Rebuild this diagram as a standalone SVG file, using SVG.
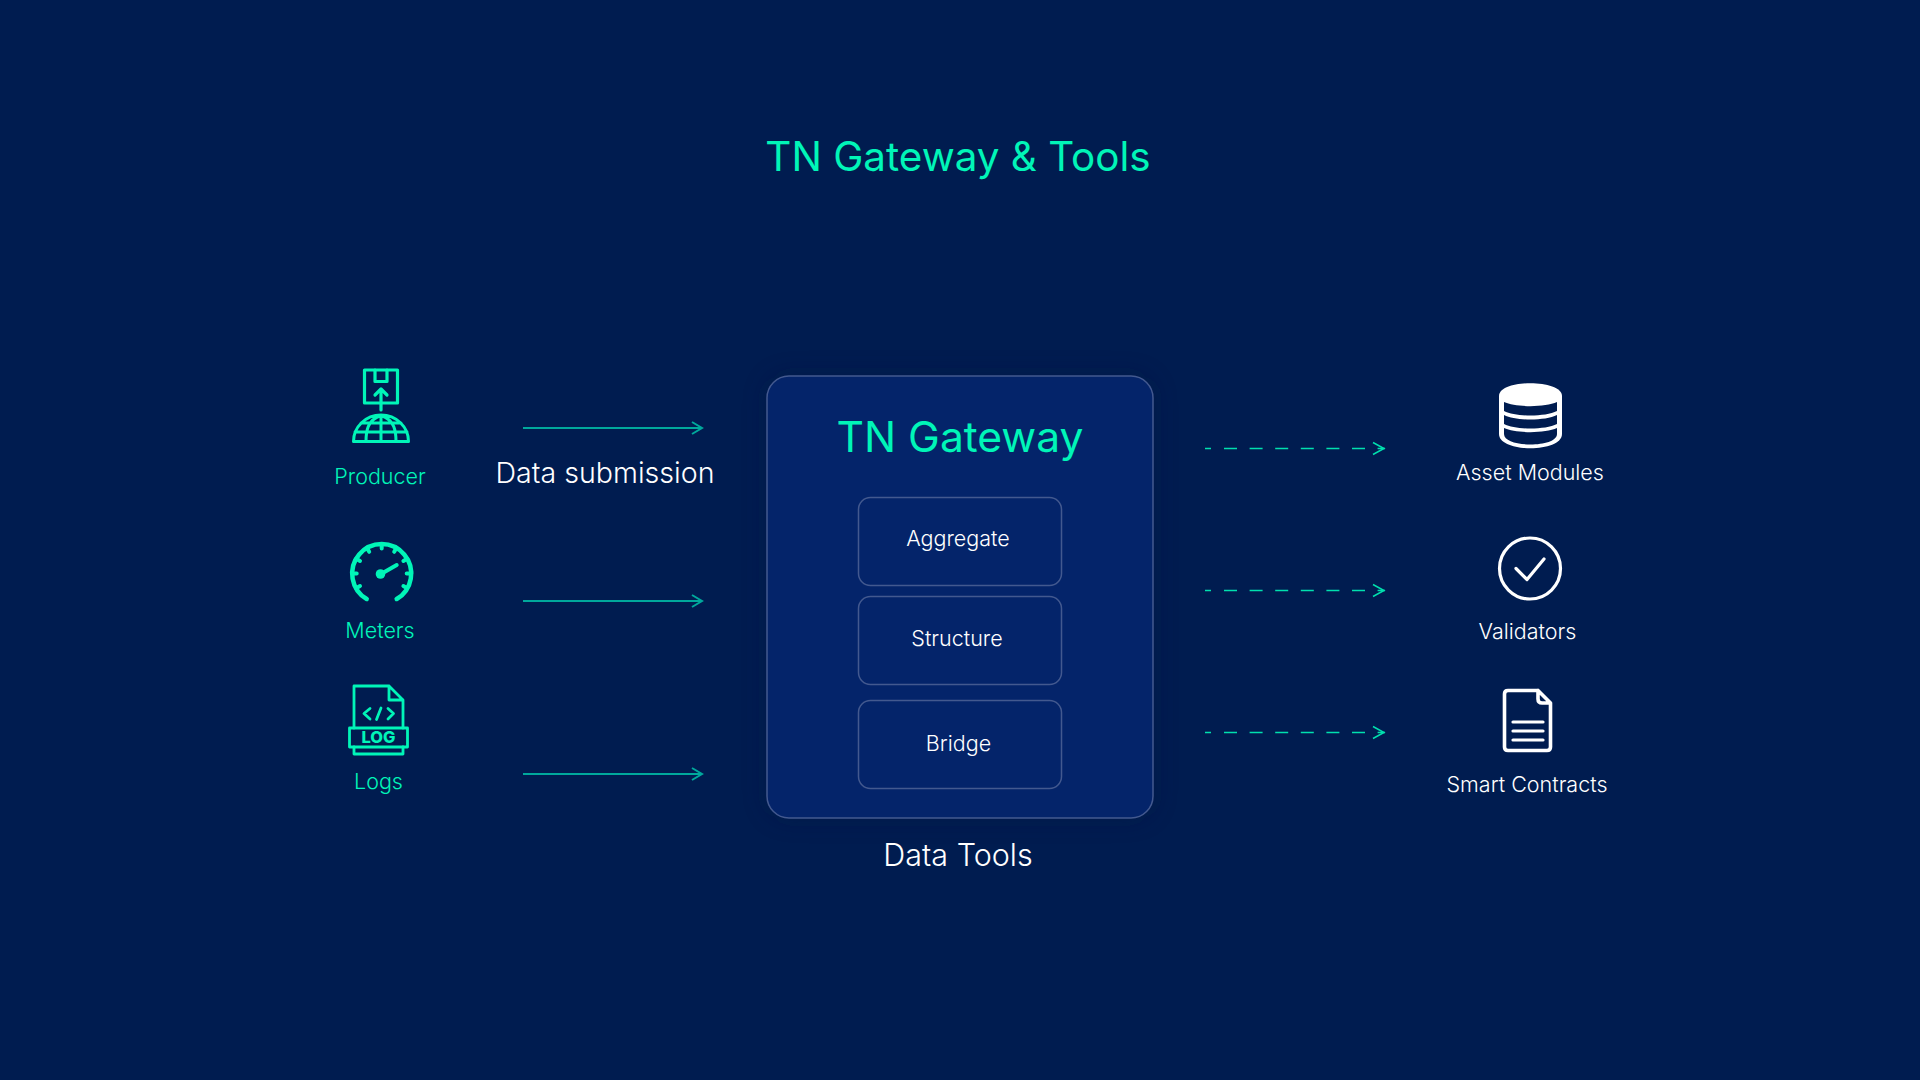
<svg xmlns="http://www.w3.org/2000/svg" width="1920" height="1080" viewBox="0 0 1920 1080">
<style>
text{font-family:Inter,"Liberation Sans",sans-serif;text-anchor:middle;font-weight:350}
.g{fill:#00f5b8}.w{fill:#fff}
.h{font-weight:410}
.ig{fill:none;stroke:#00f5b8;stroke-linecap:round;stroke-linejoin:round}
.iw{fill:none;stroke:#fff;stroke-linecap:round;stroke-linejoin:round}
.box{fill:#04246a;stroke:#43598f;stroke-width:1.5}
.s{fill:none;stroke:#00a89c;stroke-width:2}
.d{fill:none;stroke:#00e0ae;stroke-width:1.5}
.t20{font-size:21.500px}
</style>
<defs><filter id="sh" x="-20%" y="-20%" width="140%" height="140%"><feGaussianBlur stdDeviation="12"/></filter></defs>
<rect width="1920" height="1080" fill="#001c50"/>
<text id="title" x="958" y="171" font-size="40.400" class="g h">TN Gateway &amp; Tools</text>
<g id="producer">
<rect x="364.500" y="370" width="33" height="33" class="ig" stroke-width="3.200"/>
<path d="M375 370V381.500H387V370M381 410V389M375 395L381 389L387 395" class="ig" stroke-width="3.200"/>
<path d="M353.500 441.500A27.500 26.500 0 0 1 408.500 441.500ZM355 432H407M381 416V441.500M381 415.500C367 420 366 432 366 441.500M381 415.500C395 420 396 432 396 441.500M361 423H401" class="ig" stroke-width="3"/>
<text x="380" y="484" class="g t20">Producer</text>
</g>
<g id="meters">
<path d="M366.700 599A29.500 29.500 0 1 1 396.700 599" class="ig" stroke-width="4.500"/>
<path d="M381.700 544V548.500M367 548L369.200 551.800M396.400 548L394.200 551.800M356.200 558.800L360 561M407.200 558.800L403.400 561M352.200 573.500H356.700M411.200 573.500H406.700M356.200 588.200L360 586M407.200 588.200L403.400 586" class="ig" stroke-width="4"/>
<path d="M381 574L396.700 565" class="ig" stroke-width="4"/><circle cx="380.500" cy="574" r="4.800" class="g"/>
<text x="380" y="638" class="g t20">Meters</text>
</g>
<g id="logs">
<path d="M354 728V686H389L403 700V728M389 686V700H403M354 747V754H403V747" class="ig" stroke-width="2.800"/>
<rect x="349.500" y="728" width="58" height="19" class="ig" stroke-width="2.800"/>
<path d="M370 708.500L364 713.500L370 719M388 708.500L393.500 713.500L388 719M376.500 719.500L381 708" class="ig" stroke-width="2.800"/>
<text x="378.500" y="743" font-size="16.500" style="font-weight:800" class="g">LOG</text>
<text x="378.500" y="789" class="g t20">Logs</text>
</g>
<g id="connectors">
<path d="M523 428H702M692 422L702 428L692 434" class="s"/>
<path d="M523 601H702M692 595L702 601L692 607" class="s"/>
<path d="M523 774H702M692 768L702 774L692 780" class="s"/>
<path d="M1205 448.500H1385" class="d" stroke-dasharray="6 13 13 12.600 13 12.600 13 12.600 13 12.600 13 12.600 13 12.600 27"/><path d="M1373 442.500L1384 448.500L1373 454.500" class="d"/>
<path d="M1205 590.500H1385" class="d" stroke-dasharray="6 13 13 12.600 13 12.600 13 12.600 13 12.600 13 12.600 13 12.600 27"/><path d="M1373 584.500L1384 590.500L1373 596.500" class="d"/>
<path d="M1205 732.500H1385" class="d" stroke-dasharray="6 13 13 12.600 13 12.600 13 12.600 13 12.600 13 12.600 13 12.600 27"/><path d="M1373 726.500L1384 732.500L1373 738.500" class="d"/>
</g>
<text id="data-submission" x="605" y="483" font-size="28.600" class="w">Data submission</text>
<rect x="767" y="376" width="386" height="442" rx="22" fill="#00143f" opacity=".4" filter="url(#sh)"/>
<g id="gateway">
<rect x="767" y="376" width="386" height="442" rx="22" class="box"/>
<text x="960" y="452" font-size="42.600" class="g h">TN Gateway</text>
</g>
<g id="aggregate"><rect x="858.500" y="497.500" width="203" height="88" rx="12" class="box"/><text x="958" y="546" class="w t20">Aggregate</text></g>
<g id="structure"><rect x="858.500" y="596.500" width="203" height="88" rx="12" class="box"/><text x="957" y="646" class="w t20">Structure</text></g>
<g id="bridge"><rect x="858.500" y="700.500" width="203" height="88" rx="12" class="box"/><text x="958.500" y="751" class="w t20">Bridge</text></g>
<text id="data-tools" x="958" y="865.500" font-size="30.500" class="w">Data Tools</text>
<g id="asset-modules">
<path d="M1499 396C1499 379 1562 379 1562 396V434C1562 453 1499 453 1499 434Z" class="w"/>
<path d="M1504 402C1516 407.500 1545 407.500 1557 402V411C1545 417 1516 417 1504 411ZM1504 415C1516 421 1545 421 1557 415V424C1545 430 1516 430 1504 424ZM1504 428C1516 433.500 1545 433.500 1557 428V434C1557 448 1504 448 1504 434Z" fill="#001c50"/>
<text x="1530" y="479.500" class="w t20">Asset Modules</text>
</g>
<g id="validators">
<circle cx="1530" cy="568.500" r="30.500" class="iw" stroke-width="3.200"/>
<path d="M1516 568.500L1527 579.500L1544 559" class="iw" stroke-width="3.200"/>
<text x="1527.500" y="639" class="w t20">Validators</text>
</g>
<g id="smart-contracts">
<path d="M1538 690.500H1508Q1504.500 690.500 1504.500 694V747Q1504.500 750.500 1508 750.500H1547Q1550.500 750.500 1550.500 747V703L1538 690.500V699Q1538 703 1542 703H1550.500" class="iw" stroke-width="3.600"/>
<path d="M1513 722H1543M1513 731H1543M1513 740H1543" class="iw" stroke-width="3.200"/>
<text x="1527" y="792" class="w t20">Smart Contracts</text>
</g>
</svg>
